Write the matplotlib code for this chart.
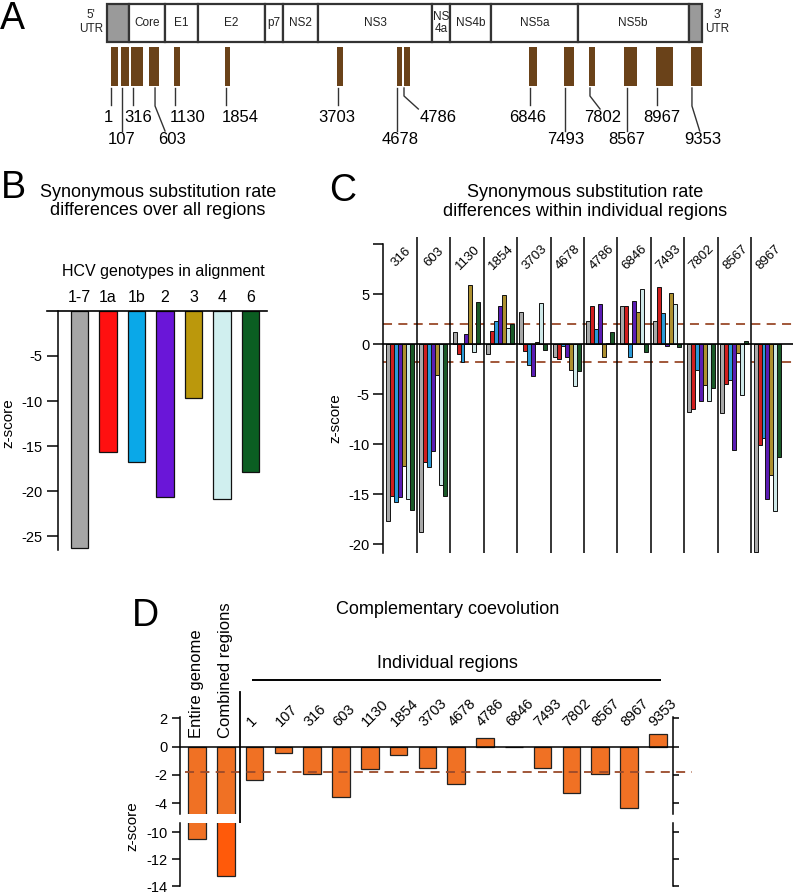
import matplotlib as mpl
import matplotlib.pyplot as plt
from matplotlib.patches import Rectangle
import numpy as np

mpl.rcParams['font.family'] = ['Liberation Sans', 'DejaVu Sans']
mpl.rcParams['axes.linewidth'] = 1.1
mpl.rcParams['xtick.major.width'] = 1.1
mpl.rcParams['ytick.major.width'] = 1.1
mpl.rcParams['axes.unicode_minus'] = False

W, H = 793, 894

# ---------------- data ----------------
# panel A: genome map (schematic positions in nucleotides, as drawn)
gene_names = ['', 'Core', 'E1', 'E2', 'p7', 'NS2', 'NS3', 'NS\n4a', 'NS4b', 'NS5a', 'NS5b', '']
gene_bounds = [-60, 290, 870, 1400, 2480, 2780, 3340, 5180, 5470, 6130, 7530, 9320, 9530]
region_names = ['1', '107', '316', '603', '1130', '1854', '3703', '4678', '4786',
                '6846', '7493', '7802', '8567', '8967', '9353']
region_start = [0, 155, 325, 610, 1020, 1845, 3640, 4610, 4727, 6750, 7300, 7715, 8280, 8800, 9355]
region_end = [120, 290, 520, 780, 1115, 1915, 3750, 4690, 4824, 6880, 7470, 7810, 8490, 9070, 9530]
leader_top = [1, 178, 356, 711, 1033, 1856, 3663, 4614, 4727, 6760, 7324, 7727, 8324, 8808, 9372]
leader_end = [1, 178, 356, 872, 1033, 1856, 3663, 4614, 4958, 6760, 7324, 7889, 8324, 8808, 9497]
label_pos = [-47, 178, 437, 985, 1243, 2082, 3647, 4660, 5276, 6727, 7340, 7937, 8324, 8889, 9550]
label_row = [0, 1, 0, 1, 0, 0, 0, 1, 0, 0, 1, 0, 1, 0, 1]

# panel B: z-scores over all regions
genotypes = ['1-7', '1a', '1b', '2', '3', '4', '6']
geno_colors = ['#a6a6a6', '#ff1010', '#0aa8e8', '#6a16d8', '#bb980c', '#d0efef', '#0b5e22']
overall_z = [-26.3, -15.7, -16.7, -20.6, -9.7, -20.9, -17.85]

# panel C: z-scores per region, one list per genotype
regions_c = ['316', '603', '1130', '1854', '3703', '4678', '4786', '6846', '7493', '7802', '8567', '8967']
z_17 = [-17.7, -18.8, 1.2, -1.0, 3.25, -1.25, 2.3, 3.8, 2.35, -6.8, -6.9, -20.8]
z_1a = [-15.2, -11.8, -1.0, 1.3, -0.7, -1.5, 3.8, 3.8, 5.7, -6.5, -4.0, -10.1]
z_1b = [-15.8, -12.3, -1.8, 2.3, -2.1, -0.2, 1.5, -1.3, 3.15, -2.6, -3.6, -9.4]
z_2 = [-15.3, -10.7, 1.0, 3.8, -3.2, -1.3, 4.0, 4.35, -0.2, -5.7, -10.6, -15.5]
z_3 = [-12.2, -3.1, 5.9, 4.9, 0.2, -2.6, -1.25, 3.25, 5.15, -4.1, -0.9, -13.1]
z_4 = [-15.5, -14.1, -0.75, 1.6, 4.1, -4.2, 0.1, 5.55, 4.0, -5.7, -5.1, -16.7]
z_6 = [-16.6, -15.2, 4.25, 2.05, -0.55, -2.7, 1.2, -0.75, -0.25, -4.4, 0.3, -11.3]
c_colors = ['#a8a8a8', '#d01e1e', '#2a9ad8', '#5a1cb4', '#ad9030', '#cfe9e9', '#1a5a28']

# panel D: complementary coevolution
entire_z = -10.5
combined_z = -13.2
d_regions = region_names
d_z = [-2.35, -0.47, -1.93, -3.53, -1.58, -0.6, -1.48, -2.6, 0.64, 0.0, -1.48, -3.3, -1.95, -4.35, 0.87]

cutoff_hi = 2.0
cutoff_lo = -1.8
dash_col = '#9a4a2a'


def box(x0, y0, x1, y1):
    return [x0 / W, 1 - y1 / H, (x1 - x0) / W, (y1 - y0) / H]


def ftext(x, y, s, **kw):
    fig.text(x / W, 1 - y / H, s, **kw)


fig = plt.figure(figsize=(W / 100, H / 100), dpi=100)

# ---------------- panel A ----------------
ax_a = fig.add_axes(box(0, 0, W, 150))
ax_a.set_xlim(-1790, 11002)
ax_a.set_ylim(150, 0)
ax_a.axis('off')
for i, name in enumerate(gene_names):
    x0, x1 = gene_bounds[i], gene_bounds[i + 1]
    fc = '#9a9a9a' if name == '' else 'white'
    ax_a.add_patch(Rectangle((x0, 4), x1 - x0, 38, facecolor=fc, edgecolor='#333333', lw=1.6))
    if name:
        ax_a.text((x0 + x1) / 2, 23, name, ha='center', va='center', fontsize=8.5,
                  linespacing=0.9, color='#222222')
ax_a.text(gene_bounds[0] - 70, 22, "5'\nUTR", ha='right', va='center', fontsize=8.5,
          multialignment='center', color='#222222')
ax_a.text(gene_bounds[-1] + 60, 22, "3'\nUTR", ha='left', va='center', fontsize=8.5,
          multialignment='center', color='#222222')
for s, e in zip(region_start, region_end):
    ax_a.add_patch(Rectangle((s, 47), e - s, 39, facecolor='#6a4219', edgecolor='none'))
for top, end, row, pos, name in zip(leader_top, leader_end, label_row, label_pos, region_names):
    if top == end:
        ax_a.plot([top, top], [88, 131 if row else 105], color='#333333', lw=1)
    else:
        ax_a.plot([top, top, end], [88, 106 if row else 96, 131 if row else 109],
                  color='#333333', lw=1)
    ax_a.text(pos, 140 if row else 117, name, ha='center', va='center', fontsize=12)
ftext(12.5, 19, 'A', fontsize=27, ha='center', va='center')

# ---------------- panel B ----------------
ax_b = fig.add_axes(box(58, 310.7, 267, 550))
x_b = np.arange(len(genotypes))
ax_b.bar(x_b, overall_z, width=0.6, color=geno_colors, edgecolor='#111111', lw=0.9)
ax_b.set_xlim(-0.754, 6.58)
ax_b.set_ylim(-26.5, 0)
ax_b.axhline(0, xmin=-0.053, xmax=1, color='k', lw=1.2, clip_on=False)
for s in ['top', 'right', 'bottom']:
    ax_b.spines[s].set_visible(False)
ax_b.xaxis.tick_top()
ax_b.set_xticks(x_b, genotypes)
ax_b.tick_params(axis='x', length=0, pad=4, labelsize=11.5)
ax_b.set_yticks([-5, -10, -15, -20, -25])
ax_b.tick_params(axis='y', length=8, labelsize=10.5, pad=3)
ftext(13, 188, 'B', fontsize=27, ha='center', va='center')
ftext(158, 201.5, 'Synonymous substitution rate\ndifferences over all regions',
      ha='center', va='center', fontsize=13, linespacing=1.1)
ftext(163, 272, 'HCV genotypes in alignment', ha='center', va='center', fontsize=11.5)
ftext(8, 423, 'z-score', rotation=90, ha='center', va='center', fontsize=11)

# ---------------- panel C ----------------
ax_c = fig.add_axes(box(383.3, 237.3, W, 553))
ax_c.set_xlim(0, 12.25)
ax_c.set_ylim(-20.87, 10.7)
bw = 0.119
xc = np.arange(len(regions_c))
for k, (vals, col) in enumerate(zip([z_17, z_1a, z_1b, z_2, z_3, z_4, z_6], c_colors)):
    ax_c.bar(xc + 0.13 + k * bw, vals, width=bw, color=col, edgecolor='#111111', lw=0.7, zorder=2)
ax_c.axhline(0, color='k', lw=1.2, zorder=3)
ax_c.vlines(np.arange(1, 12), -20.87, 10.7, color='k', lw=1.1, zorder=3)
for yv in [cutoff_hi, cutoff_lo]:
    ax_c.axhline(yv, color=dash_col, lw=1.3, ls=(0, (5, 3.5)), zorder=1)
for i, name in enumerate(regions_c):
    ax_c.text(i + 0.53, 8.7, name, rotation=45, ha='center', va='center', fontsize=9.5)
for s in ['top', 'right', 'bottom']:
    ax_c.spines[s].set_visible(False)
ax_c.spines['left'].set_bounds(-20.87, 10)
ax_c.set_xticks([])
ax_c.set_yticks([10, 5, 0, -5, -10, -15, -20], ['', '5', '0', '-5', '-10', '-15', '-20'])
ax_c.tick_params(axis='y', length=7, labelsize=10.5, pad=3)
ftext(342.5, 191, 'C', fontsize=27, ha='center', va='center')
ftext(585, 202, 'Synonymous substitution rate\ndifferences within individual regions',
      ha='center', va='center', fontsize=13, linespacing=1.1)
ftext(335, 418, 'z-score', rotation=90, ha='center', va='center', fontsize=11)

# ---------------- panel D ----------------
ax_du = fig.add_axes(box(180, 716.7, 673.3, 814))
ax_dl = fig.add_axes(box(180, 822.7, 673.3, 886.5))
orange = '#f07124'
xd = np.arange(2, 2 + len(d_regions))
for ax in [ax_du, ax_dl]:
    ax.bar([0, 1], [entire_z, combined_z], width=0.61,
           color=[orange, orange if ax is ax_du else '#ff5a0a'], edgecolor='#222222', lw=0.9)
    ax.set_xlim(-0.59, 16.54)
    ax.spines['top'].set_visible(False)
    ax.spines['bottom'].set_visible(False)
    ax.set_xticks([])
    ax.tick_params(axis='y', length=6, labelsize=10.5, pad=3, right=True, labelright=False)
ax_du.bar(xd, d_z, width=0.61, color=orange, edgecolor='#222222', lw=0.9)
ax_du.set_ylim(-4.75, 2.11)
ax_dl.set_ylim(-14, -9.3)
ax_du.set_yticks([2, 0, -2, -4])
ax_dl.set_yticks([-10, -12, -14])
for t in ax_du.yaxis.get_major_ticks() + ax_dl.yaxis.get_major_ticks():
    t.tick2line.set_markersize(4)
ax_du.axhline(0, color='k', lw=1.1, zorder=3)
ax_du.axhline(cutoff_lo, xmin=0.01, xmax=1.038, color=dash_col, lw=1.3,
              ls=(0, (5, 3.5)), zorder=1, clip_on=False)
ax_du.axvline(1.5, ymin=-0.74, ymax=1.257, color='k', lw=1.3, clip_on=False)
ax_du.hlines(4.7, 1.9, 16.1, color='k', lw=1.4, clip_on=False)
for x, name in zip(xd, d_regions):
    ax_du.text(x - 0.1, 1.4, name, rotation=45, rotation_mode='anchor',
               ha='left', va='baseline', fontsize=10.5)
ax_du.text(0, 0.6, 'Entire genome', rotation=90, ha='center', va='bottom', fontsize=12)
ax_du.text(1, 0.6, 'Combined regions', rotation=90, ha='center', va='bottom', fontsize=12)
ftext(145, 616.5, 'D', fontsize=27, ha='center', va='center')
ftext(447.5, 610, 'Complementary coevolution', ha='center', va='center', fontsize=13)
ftext(447.5, 663, 'Individual regions', ha='center', va='center', fontsize=13)
ftext(132, 826, 'z-score', rotation=90, ha='center', va='center', fontsize=11)

fig.savefig('out.png', dpi=100)
